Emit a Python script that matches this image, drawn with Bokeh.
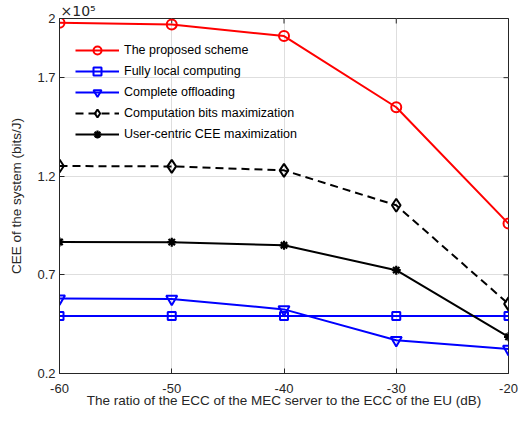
import math
from bokeh.plotting import figure
from bokeh.models import (FixedTicker, Range1d, Legend, CustomJSTickFormatter)
from bokeh.embed import file_html
from bokeh.resources import INLINE

# Data (CEE in units of 1e5 bits/J)
ratio_db = [-60, -50, -40, -30, -20]
proposed = [1.978, 1.970, 1.911, 1.550, 0.960]
fully_local = [0.491, 0.491, 0.491, 0.491, 0.491]
complete_offload = [0.580, 0.578, 0.525, 0.369, 0.324]
bits_max = [1.252, 1.250, 1.230, 1.053, 0.553]
user_cee = [0.867, 0.866, 0.850, 0.724, 0.386]

x_ticks = [-60, -50, -40, -30, -20]
y_ticks = [0.2, 0.7, 1.2, 1.7, 2.0]
x_min, x_max = -60, -20
y_min, y_max = 0.2, 2.0

FONT = "Liberation Sans"
AX = "#262626"

p = figure(frame_width=449, frame_height=355,
           x_range=Range1d(x_min, x_max), y_range=Range1d(y_min, y_max),
           output_backend="svg", toolbar_location=None,
           min_border_left=59, min_border_right=17,
           min_border_top=18, min_border_bottom=49)
p.background_fill_color = "white"
p.border_fill_color = "white"
p.outline_line_color = AX
p.outline_line_width = 1

# Exponent shown as title above the top-left corner
p.title.text = "\u00d710\u2075"
p.title.align = "left"
p.title.text_font = "DejaVu Sans"
p.title.text_font_size = "14px"
p.title.text_font_style = "normal"
p.title.text_color = AX
p.title.standoff = 0
p.title.offset = 1

# Grid
for g in (p.xgrid, p.ygrid):
    g.grid_line_color = "#dedede"
    g.grid_line_width = 1
p.xgrid.ticker = FixedTicker(ticks=x_ticks)
p.ygrid.ticker = FixedTicker(ticks=y_ticks)

# Axes
xa = p.xaxis[0]
ya = p.yaxis[0]
xa.ticker = FixedTicker(ticks=x_ticks)
ya.ticker = FixedTicker(ticks=y_ticks)
xa.formatter = CustomJSTickFormatter(code="return Math.round(tick).toString();")
ya.formatter = CustomJSTickFormatter(code="return (Math.abs(tick-2)<1e-9) ? '2' : tick.toFixed(1);")
for a in (xa, ya):
    a.major_tick_in = 5
    a.major_tick_out = 0
    a.minor_tick_line_color = None
    a.axis_line_color = AX
    a.major_tick_line_color = AX
    a.major_label_text_color = AX
    a.major_label_text_font = FONT
    a.major_label_text_font_size = "13px"
    a.axis_label_text_font = FONT
    a.axis_label_text_font_size = "13.5px"
    a.axis_label_text_font_style = "normal"
    a.axis_label_text_color = AX
xa.axis_label = "The ratio of the ECC of the MEC server to the ECC of the EU (dB)"
ya.axis_label = "CEE of the system (bits/J)"
xa.major_label_standoff = 10
xa.axis_label_standoff = -3
ya.major_label_standoff = 4
ya.axis_label_standoff = 10

# Mirror ticks on top and right edges (inward), clipped to the frame
p.scatter(x_ticks, [y_max] * len(x_ticks), marker="dash", angle=math.pi / 2,
          size=10, line_color=AX, line_width=1)
p.scatter([x_max] * len(y_ticks), y_ticks, marker="dash",
          size=10, line_color=AX, line_width=1)

RED = "#ff0000"
BLUE = "#0000ff"
BLK = "#000000"

r1 = p.line(ratio_db, proposed, line_color=RED, line_width=2)
m1 = p.scatter(ratio_db, proposed, marker="circle", size=10, line_color=RED,
               line_width=2, fill_color=None)
r2 = p.line(ratio_db, fully_local, line_color=BLUE, line_width=2)
m2 = p.scatter(ratio_db, fully_local, marker="square", size=8, line_color=BLUE,
               line_width=2, fill_color=None)
r3 = p.line(ratio_db, complete_offload, line_color=BLUE, line_width=2)
m3 = p.scatter(ratio_db, complete_offload, marker="inverted_triangle", size=11,
               line_color=BLUE, line_width=2, fill_color=None)
r4 = p.line(ratio_db, bits_max, line_color=BLK, line_width=2, line_dash="8 5")
m4 = p.scatter(ratio_db, bits_max, marker="diamond", size=13, line_color=BLK,
               line_width=2, fill_color=None)
r5 = p.line(ratio_db, user_cee, line_color=BLK, line_width=2)
m5 = p.scatter(ratio_db, user_cee, marker="asterisk", size=9, line_color=BLK,
               line_width=2.2)

legend = Legend(items=[
    ("The proposed scheme", [r1, m1]),
    ("Fully local computing", [r2, m2]),
    ("Complete offloading", [r3, m3]),
    ("Computation bits maximization", [r4, m4]),
    ("User-centric CEE maximization", [r5, m5]),
], location=(16, 229))
legend.background_fill_alpha = 0
legend.border_line_alpha = 0
legend.padding = 0
legend.margin = 0
legend.spacing = 1
legend.glyph_width = 44
legend.glyph_height = 20
legend.label_standoff = 5
legend.label_text_font = FONT
legend.label_text_font_size = "12.5px"
legend.label_text_color = "#000000"
legend.label_height = 20
p.add_layout(legend, "center")

open("out.html", "w").write(file_html(p, INLINE))
